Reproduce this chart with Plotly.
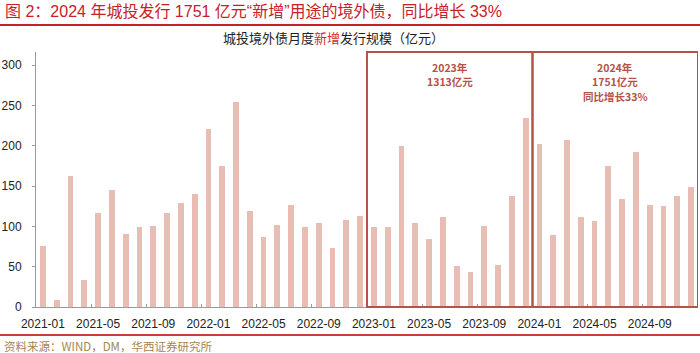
import plotly.graph_objects as go

months = ["2021-01", "2021-02", "2021-03", "2021-04", "2021-05", "2021-06",
          "2021-07", "2021-08", "2021-09", "2021-10", "2021-11", "2021-12",
          "2022-01", "2022-02", "2022-03", "2022-04", "2022-05", "2022-06",
          "2022-07", "2022-08", "2022-09", "2022-10", "2022-11", "2022-12",
          "2023-01", "2023-02", "2023-03", "2023-04", "2023-05", "2023-06",
          "2023-07", "2023-08", "2023-09", "2023-10", "2023-11", "2023-12",
          "2024-01", "2024-02", "2024-03", "2024-04", "2024-05", "2024-06",
          "2024-07", "2024-08", "2024-09", "2024-10", "2024-11", "2024-12"]

values = [76, 9, 162, 34, 117, 145, 91, 99, 100, 117, 129, 140,
          221, 175, 254, 119, 87, 102, 127, 99, 104, 73, 108, 113,
          99, 99, 200, 104, 84, 111, 51, 43, 100, 52, 137, 234,
          202, 89, 207, 112, 106, 175, 134, 192, 127, 125, 137, 149]

y_ticks = [0, 50, 100, 150, 200, 250, 300]
box_years = ["2023", "2024"]
box_texts = [["2023年", "1313亿元"], ["2024年", "1751亿元", "同比增长33%"]]

main_title = "图 2：2024 年城投发行 1751 亿元“新增”用途的境外债，同比增长 33%"
chart_title = "城投境外债月度<span style='color:#D42A2A'>新增</span>发行规模（亿元）"
source_text = "资料来源：WIND，DM，华西证券研究所"

# ---- layout geometry (pixels) ----
W, H = 700, 353
L, R, T, B = 36, 2, 52, 46
plot_w = W - L - R
plot_h = H - T - B


def px_x(p):
    return (p - L) / plot_w


def px_y(p):
    return (H - B - p) / plot_h


y_top = 300 * plot_h / (H - B - 65)

FONT = "Liberation Sans, Arial, Noto Sans CJK SC"
CJK = "Noto Sans CJK SC, Liberation Sans"
RED = "#C8202A"
BOX = "#B5524A"
AXIS = "#9A9A9A"

idx = list(range(len(months)))

fig = go.Figure(go.Bar(x=idx, y=values, width=0.42,
                       marker=dict(color="#E8BDB4", line=dict(width=0)),
                       hoverinfo="x+y"))

label_idx = idx[::4]
boundaries = [i - 0.5 for i in label_idx[1:]]

shapes = []
annotations = []
line_y = [67.0, 81.5, 96.0]
for year, lines in zip(box_years, box_texts):
    xs = [i for i, m in enumerate(months) if m.startswith(year)]
    x0, x1 = min(xs) - 0.5, max(xs) + 0.5
    shapes.append(dict(type="rect", xref="x", yref="paper", x0=x0, x1=x1,
                       y0=0, y1=1, line=dict(color=BOX, width=2),
                       fillcolor="rgba(0,0,0,0)", layer="above"))
    for k, txt in enumerate(lines):
        annotations.append(dict(xref="x", yref="paper", x=(x0 + x1) / 2,
                                y=px_y(line_y[k]), yanchor="middle",
                                xanchor="center", text="<b>" + txt + "</b>",
                                showarrow=False, borderpad=0,
                                font=dict(family=CJK, size=10.5, color=BOX)))

# top and bottom red rules
shapes.append(dict(type="line", xref="paper", yref="paper",
                   x0=px_x(0), x1=px_x(W), y0=px_y(25), y1=px_y(25),
                   line=dict(color=RED, width=2)))
shapes.append(dict(type="line", xref="paper", yref="paper",
                   x0=px_x(0), x1=px_x(W), y0=px_y(335), y1=px_y(335),
                   line=dict(color="#D03A3A", width=2)))

annotations.append(dict(xref="paper", yref="paper", x=px_x(3), y=px_y(11),
                        xanchor="left", yanchor="middle", text=main_title,
                        showarrow=False,
                        font=dict(family=FONT, size=16, color=RED)))
annotations.append(dict(xref="paper", yref="paper", x=px_x(333), y=px_y(38),
                        xanchor="center", yanchor="middle", text=chart_title,
                        showarrow=False,
                        font=dict(family=CJK, size=13, color="#222222")))
annotations.append(dict(xref="paper", yref="paper", x=px_x(2), y=px_y(346),
                        xanchor="left", yanchor="middle", text=source_text,
                        showarrow=False,
                        font=dict(family=CJK, size=11.5, color="#A8844E")))

fig.update_layout(
    width=W, height=H,
    margin=dict(l=L, r=R, t=T, b=B, pad=0),
    plot_bgcolor="white", paper_bgcolor="white",
    showlegend=False, bargap=0,
    font=dict(family=FONT, size=12, color="#222222"),
    xaxis=dict(range=[-0.5, len(months) - 0.5], tickmode="array",
               tickvals=label_idx, ticktext=[months[i] for i in label_idx],
               ticks="", showline=True, linecolor=AXIS, linewidth=1,
               showgrid=False, zeroline=False, ticklabelstandoff=6,
               tickfont=dict(size=12, color="#222222"),
               minor=dict(tickmode="array", tickvals=boundaries,
                          ticks="inside", ticklen=3, tickcolor=AXIS,
                          showgrid=False)),
    yaxis=dict(range=[0, y_top], tickmode="array", tickvals=y_ticks,
               ticks="outside", ticklen=3, tickcolor=AXIS,
               showline=True, linecolor=AXIS, linewidth=1,
               showgrid=False, zeroline=False, ticklabelstandoff=8,
               tickfont=dict(size=12, color="#222222")),
    shapes=shapes,
    annotations=annotations,
)

fig.write_html("out.html")
